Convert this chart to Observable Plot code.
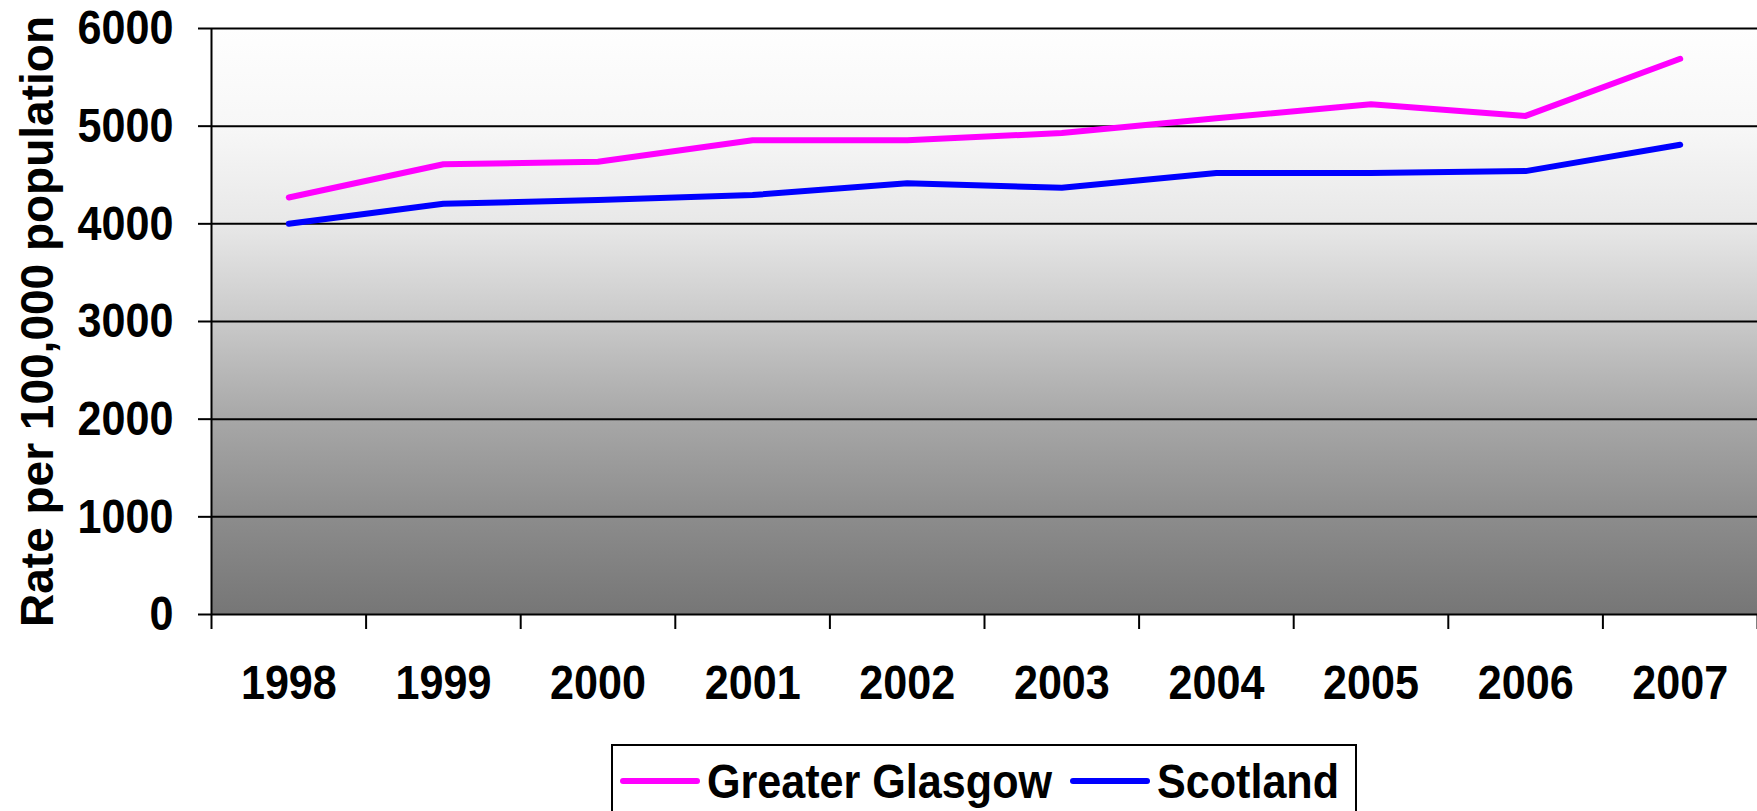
<!DOCTYPE html>
<html>
<head>
<meta charset="utf-8">
<script src="https://cdn.jsdelivr.net/npm/d3@7"></script>
<script src="https://cdn.jsdelivr.net/npm/@observablehq/plot@0.6"></script>
<style>
  body { margin: 0; background: #fff; overflow: hidden; font-family: "Liberation Sans", Arial, sans-serif; }
  #wrap { position: relative; width: 1757px; height: 811px; overflow: hidden; }
  #chart { position: absolute; left: 0; top: 0; }
  #legend { position: absolute; left: 611px; top: 744px; }
</style>
</head>
<body>
<div id="wrap">
  <div id="chart"></div>
  <div id="legend"></div>
</div>
<script>
// ---- data ----
const years = [1998, 1999, 2000, 2001, 2002, 2003, 2004, 2005, 2006, 2007];
const glasgow = [4270, 4610, 4635, 4855, 4855, 4930, 5080, 5225, 5105, 5690];
const scotland = [4000, 4205, 4245, 4295, 4415, 4370, 4520, 4520, 4540, 4810];
const seriesNames = ["Greater Glasgow", "Scotland"];
const seriesColors = ["#ff00ff", "#0000ff"];
const yTicks = [0, 1000, 2000, 3000, 4000, 5000, 6000];
const yLabel = "Rate per 100,000 population";

const seriesValues = [glasgow, scotland];
const rows = [];
seriesNames.forEach((name, s) => {
  years.forEach((yr, i) => rows.push({ year: yr, value: seriesValues[s][i], series: name }));
});
// category boundaries (Excel-style ticks between categories)
const bounds = d3.range(years[0] - 0.5, years[years.length - 1] + 1, 1);

const FONT = '"Liberation Sans", Arial, sans-serif';
const SQUEEZE = 0.88;

const chart = Plot.plot({
  width: 1757,
  height: 740,
  marginLeft: 211,
  marginRight: 0,
  marginTop: 28,
  marginBottom: 126,
  style: { fontFamily: FONT, fontWeight: "bold", color: "#000", background: "transparent", overflow: "visible" },
  x: { type: "linear", domain: [bounds[0], bounds[bounds.length - 1]] },
  y: { domain: [yTicks[0], yTicks[yTicks.length - 1]] },
  color: { domain: seriesNames, range: seriesColors },
  marks: [
    Plot.frame({ fill: "url(#bggrad)", stroke: "none" }),
    Plot.ruleY(yTicks, { stroke: "#000", strokeWidth: 2 }),
    Plot.ruleX([bounds[0]], { stroke: "#000", strokeWidth: 2 }),
    Plot.axisY({ ticks: yTicks, tickSize: 13, tickFormat: () => "", stroke: "#000", strokeWidth: 2, label: null }),
    Plot.axisY({ ticks: yTicks, tickSize: 0, tickPadding: 34, fontSize: 49, fontWeight: "bold", tickFormat: d => String(d), label: null }),
    Plot.axisX({ ticks: bounds, tickSize: 15, tickFormat: () => "", stroke: "#000", strokeWidth: 2, label: null }),
    Plot.axisX({ ticks: years, tickSize: 0, tickPadding: 50, fontSize: 49, fontWeight: "bold", tickFormat: d => String(d), label: null }),
    Plot.line(rows, { x: "year", y: "value", z: "series", stroke: "series", strokeWidth: 6, strokeLinecap: "round", strokeLinejoin: "round" }),
    Plot.text([yLabel], { text: d => d, frameAnchor: "left", textAnchor: "middle", rotate: -90, dx: -159, lineAnchor: "bottom", fontSize: 46, fontWeight: "bold", fill: "#000" })
  ]
});

// background gradient for the plot area
const stops = [[0, "#fefefe"], [0.167, "#f7f7f7"], [0.333, "#e8e8e8"], [0.5, "#c9c9c9"], [0.667, "#a7a7a7"], [0.833, "#8c8c8c"], [1, "#767676"]];
const defs = d3.select(chart).insert("defs", ":first-child");
const grad = defs.append("linearGradient").attr("id", "bggrad")
  .attr("x1", 0).attr("y1", 0).attr("x2", 0).attr("y2", 1);
stops.forEach(([o, c]) => grad.append("stop").attr("offset", o).attr("stop-color", c));

document.getElementById("chart").appendChild(chart);

// horizontally condense tick labels (the reference font is narrow and tall):
// wrap each label in a group scaled about its own anchor point
function squeezeLabels(svg, selector, s) {
  const box = svg.getBoundingClientRect();
  svg.querySelectorAll(selector).forEach(el => {
    if (!el.textContent) return;
    const r = el.getBoundingClientRect();
    const anchor = getComputedStyle(el).textAnchor;
    const ax = (anchor === "end" ? r.right : anchor === "middle" ? (r.left + r.right) / 2 : r.left) - box.left;
    const g = document.createElementNS("http://www.w3.org/2000/svg", "g");
    g.setAttribute("transform", `translate(${ax},0) scale(${s},1) translate(${-ax},0)`);
    el.parentNode.insertBefore(g, el);
    g.appendChild(el);
  });
}
squeezeLabels(chart, 'g[aria-label="y-axis tick label"] text, g[aria-label="x-axis tick label"] text', SQUEEZE);

// ---- legend (below the chart) ----
const lg = d3.select("#legend").append("svg")
  .attr("width", 746).attr("height", 67)
  .style("font-family", FONT).style("font-weight", "bold");
lg.append("rect").attr("x", 1).attr("y", 1).attr("width", 744).attr("height", 120)
  .attr("fill", "#fff").attr("stroke", "#000").attr("stroke-width", 2);
const itemX = [12, 462];
seriesNames.forEach((name, i) => {
  const x0 = itemX[i];
  lg.append("line").attr("x1", x0).attr("x2", x0 + 74).attr("y1", 37).attr("y2", 37)
    .attr("stroke", seriesColors[i]).attr("stroke-width", 6).attr("stroke-linecap", "round");
  lg.append("text").attr("transform", `translate(${x0 + 84},54) scale(${SQUEEZE},1)`)
    .attr("font-size", 49).attr("fill", "#000").text(name);
});
</script>
</body>
</html>
